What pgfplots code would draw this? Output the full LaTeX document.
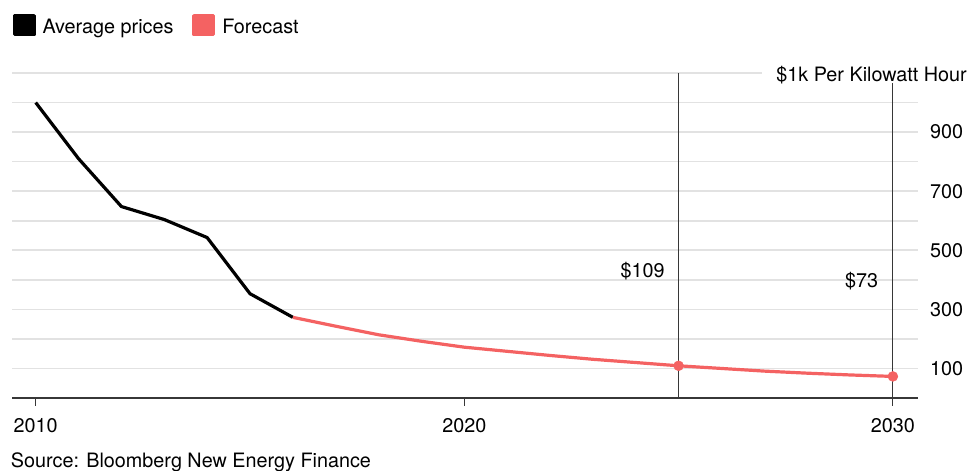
\documentclass[border=0pt]{standalone}
\usepackage{fontspec}
\setmainfont{TeX Gyre Heros}
\usepackage{pgfplots}
\pgfplotsset{compat=1.18}
\definecolor{fc}{RGB}{244,98,98}
\definecolor{gridc}{RGB}{226,226,226}
\definecolor{axc}{RGB}{55,55,55}
\newcommand\f{\fontsize{19.8bp}{23bp}\selectfont}
\begin{document}
\f
\begin{tikzpicture}[font=\f]
\useasboundingbox (0,0) rectangle (970bp,471bp);
\begin{axis}[
  at={(12bp,73bp)}, anchor=south west,
  scale only axis, width=906bp, height=325bp,
  xmin=2009.447, xmax=2030.586, ymin=0, ymax=1100,
  axis x line*=bottom, axis y line*=right,
  y axis line style={draw=none},
  x axis line style={axc, line width=1.2bp, -},
  xtick={2010,2020,2030}, xticklabels={2010,2020,2030},
  ytick={100,200,300,400,500,600,700,800,900,1000},
  yticklabels={100,,300,,500,,700,,900,},
  /pgf/number format/assume math mode=true,
  ymajorgrids, major grid style={gridc, line width=1.6bp},
  xtick style={axc, line width=1.2bp}, major tick length=8bp, tick align=outside,
  ytick style={draw=none},
  yticklabel style={anchor=west, inner sep=0pt, xshift=4bp},
  xticklabel style={anchor=north, inner sep=0pt, yshift=-12bp},
  clip=false,
  legend columns=2,
  legend cell align=left,
  legend image code/.code={\fill[#1] (0bp,-7.6bp) rectangle (19.6bp,11.7bp);},
  legend style={at={(axis description cs:0,1)}, anchor=north west, xshift=0.7bp, yshift=59bp,
    draw=none, fill=none, inner sep=0pt, outer sep=0pt, nodes={inner sep=0pt},
    /tikz/every odd column/.append style={column sep=7bp},
    /tikz/every even column/.append style={column sep=19bp}},
]
\draw[gridc, line width=1.6bp] (axis cs:2009.447,1100) -- (axis cs:2026.946,1100);
\draw[axc, line width=1.2bp] (axis cs:2025,0) -- (axis cs:2025,1100);
\draw[axc, line width=1.2bp] (axis cs:2030,0) -- (axis cs:2030,1065);
\node[anchor=base east, inner sep=0pt] at (axis cs:2030.586,1100) [xshift=49bp, yshift=-8.7bp] {\$1k Per Kilowatt Hour};
\node[inner sep=0pt] at (axis cs:2024.16,431) {\$109};
\node[inner sep=0pt] at (axis cs:2029.27,394) {\$73};
\addplot[black, line width=3.2bp, line join=round] coordinates {
(2010,1000)(2011,810)(2012,648)(2013,604)(2014,543)(2015,353)(2016,273)};
\addlegendentry{Average prices}
\addplot[fc, line width=3.2bp, line join=round] coordinates {
(2016,273)(2017,243)(2018,214)(2019,192)(2020,172)(2021,158)(2022,144)(2023,131)(2024,120)(2025,109)(2026,100)(2027,91)(2028,84)(2029,78)(2030,73)};
\addlegendentry{Forecast}
\addplot[fc, only marks, mark=*, mark size=5bp, forget plot] coordinates {(2025,109)(2030,73)};
\end{axis}
\node[anchor=base west, inner sep=0pt] at (10.7bp,4bp) {Source: Bloomberg New Energy Finance};
\end{tikzpicture}
\end{document}
